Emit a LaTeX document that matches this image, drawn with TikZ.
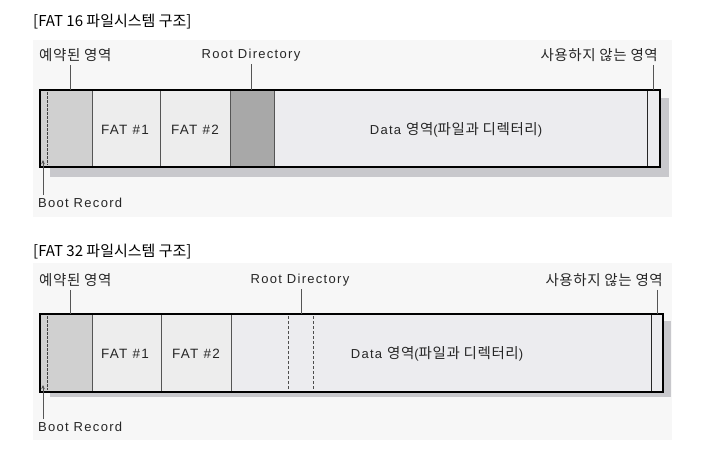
\documentclass[tikz,border=0pt]{standalone}
\usepackage{fontspec}
\setmainfont{Noto Sans CJK KR}
\newfontfamily\latf[LetterSpace=10]{Liberation Sans}
\newfontfamily\korf[LetterSpace=4]{Noto Sans CJK KR}
\newcommand{\K}[1]{{\korf\fontsize{14.5}{16}\selectfont #1}}
\usetikzlibrary{arrows.meta}
\definecolor{panelbg}{HTML}{F7F7F7}
\definecolor{shadowc}{HTML}{C8C8CC}
\definecolor{resc}{HTML}{D0D0D0}
\definecolor{fatc}{HTML}{EDEDED}
\definecolor{rootc}{HTML}{A8A8A8}
\definecolor{datac}{HTML}{ECECEF}
\definecolor{labc}{HTML}{262626}
\definecolor{leadc}{HTML}{555555}
\tikzset{
  title/.style={anchor=west,inner sep=0pt,font=\fontsize{15}{17}\selectfont,text=black},
  lab/.style={inner sep=0pt,font=\latf\fontsize{13}{15}\selectfont,text=labc},
  celltxt/.style={inner sep=0pt,font=\latf\fontsize{13.5}{15}\selectfont,text=labc},
  leader/.style={draw=leadc,line width=0.8pt},
  divider/.style={draw=leadc,line width=0.8pt},
  outline/.style={draw=black,line width=2.2pt},
  bootdash/.style={draw=black!75,line width=1pt,dash pattern=on 2.5pt off 1.5pt},
  rootdash/.style={draw=black!70,line width=1pt,dash pattern=on 3pt off 2pt},
}
\begin{document}
\begin{tikzpicture}[x=1pt,y=-1pt]
\useasboundingbox (0,0) rectangle (710,451);
\fill[white] (0,0) rectangle (710,451);

% ===== FAT 16 =====
\node[title] (t16) at (33,22) {[FAT 16 파일시스템 구조]};
\fill[panelbg] (33,40) rectangle (672,217);
\fill[shadowc] (50,98) rectangle (669,177);
\fill[resc] (40,90) rectangle (92,167);
\fill[fatc] (92,90) rectangle (230,167);
\fill[rootc] (230,90) rectangle (274,167);
\fill[datac] (274,90) rectangle (660,167);
\draw[divider] (92,90) -- (92,167);
\draw[divider] (160,90) -- (160,167);
\draw[divider] (230,90) -- (230,167);
\draw[divider] (274,90) -- (274,167);
\draw[draw=black!85,line width=1pt] (647,90) -- (647,167);
\draw[bootdash] (47.5,92) -- (47.5,165);
\draw[outline] (40,90) rectangle (660,167);

\node[celltxt] (fat1a) at (125,130) {FAT \#1};
\node[celltxt] (fat2a) at (195,130) {FAT \#2};
\node[celltxt,font=\latf\fontsize{13}{15}\selectfont] (dataa) at (456,130) {Data \K{영역}(\K{파일과 디렉터리})};

\node[lab,anchor=west] (resa) at (39,55) {\K{예약된 영역}};
\node[lab] (roota) at (251,55) {Root Directory};
\node[lab,anchor=east] (unua) at (658,55) {\K{사용하지 않는 영역}};
\node[lab,anchor=west] (boota) at (38,203) {Boot Record};

\coordinate (resa-pt) at (70,90);
\coordinate (roota-pt) at (251,90);
\coordinate (unua-pt) at (653,90);
\coordinate (boota-pt) at (43,160);
\draw[leader] (resa-pt |- resa.south) ++(0,3) -- (resa-pt);
\draw[leader] (roota-pt |- roota.south) ++(0,3) -- (roota-pt);
\draw[leader] (unua-pt |- unua.south) ++(0,3) -- (unua-pt);
\draw[leader,-{Stealth[length=4pt,width=3.5pt]}] (boota-pt |- boota.north) ++(0,-3) -- (boota-pt);

% ===== FAT 32 =====
\node[title] (t32) at (33,252) {[FAT 32 파일시스템 구조]};
\fill[panelbg] (33,263) rectangle (672,440);
\fill[shadowc] (50,321) rectangle (671,397);
\fill[resc] (40,314) rectangle (92,392);
\fill[fatc] (92,314) rectangle (231,392);
\fill[datac] (231,314) rectangle (663,392);
\draw[divider] (92,314) -- (92,392);
\draw[divider] (161,314) -- (161,392);
\draw[divider] (231,314) -- (231,392);
\draw[rootdash] (288,316) -- (288,390);
\draw[rootdash] (313,316) -- (313,390);
\draw[draw=black!85,line width=1pt] (651,314) -- (651,392);
\draw[bootdash] (47.5,316) -- (47.5,390);
\draw[outline] (40,314) rectangle (663,392);

\node[celltxt] (fat1b) at (125,354) {FAT \#1};
\node[celltxt] (fat2b) at (196,354) {FAT \#2};
\node[celltxt,font=\latf\fontsize{13}{15}\selectfont] (datab) at (437,354) {Data \K{영역}(\K{파일과 디렉터리})};

\node[lab,anchor=west] (resb) at (39,280) {\K{예약된 영역}};
\node[lab] (rootb) at (300,280) {Root Directory};
\node[lab,anchor=east] (unub) at (663,280) {\K{사용하지 않는 영역}};
\node[lab,anchor=west] (bootb) at (38,427) {Boot Record};

\coordinate (resb-pt) at (70,314);
\coordinate (rootb-pt) at (301,314);
\coordinate (unub-pt) at (657,314);
\coordinate (bootb-pt) at (43,385);
\draw[leader] (resb-pt |- resb.south) ++(0,3) -- (resb-pt);
\draw[leader] (rootb-pt |- rootb.south) ++(0,3) -- (rootb-pt);
\draw[leader] (unub-pt |- unub.south) ++(0,3) -- (unub-pt);
\draw[leader,-{Stealth[length=4pt,width=3.5pt]}] (bootb-pt |- bootb.north) ++(0,-3) -- (bootb-pt);
\end{tikzpicture}
\end{document}
